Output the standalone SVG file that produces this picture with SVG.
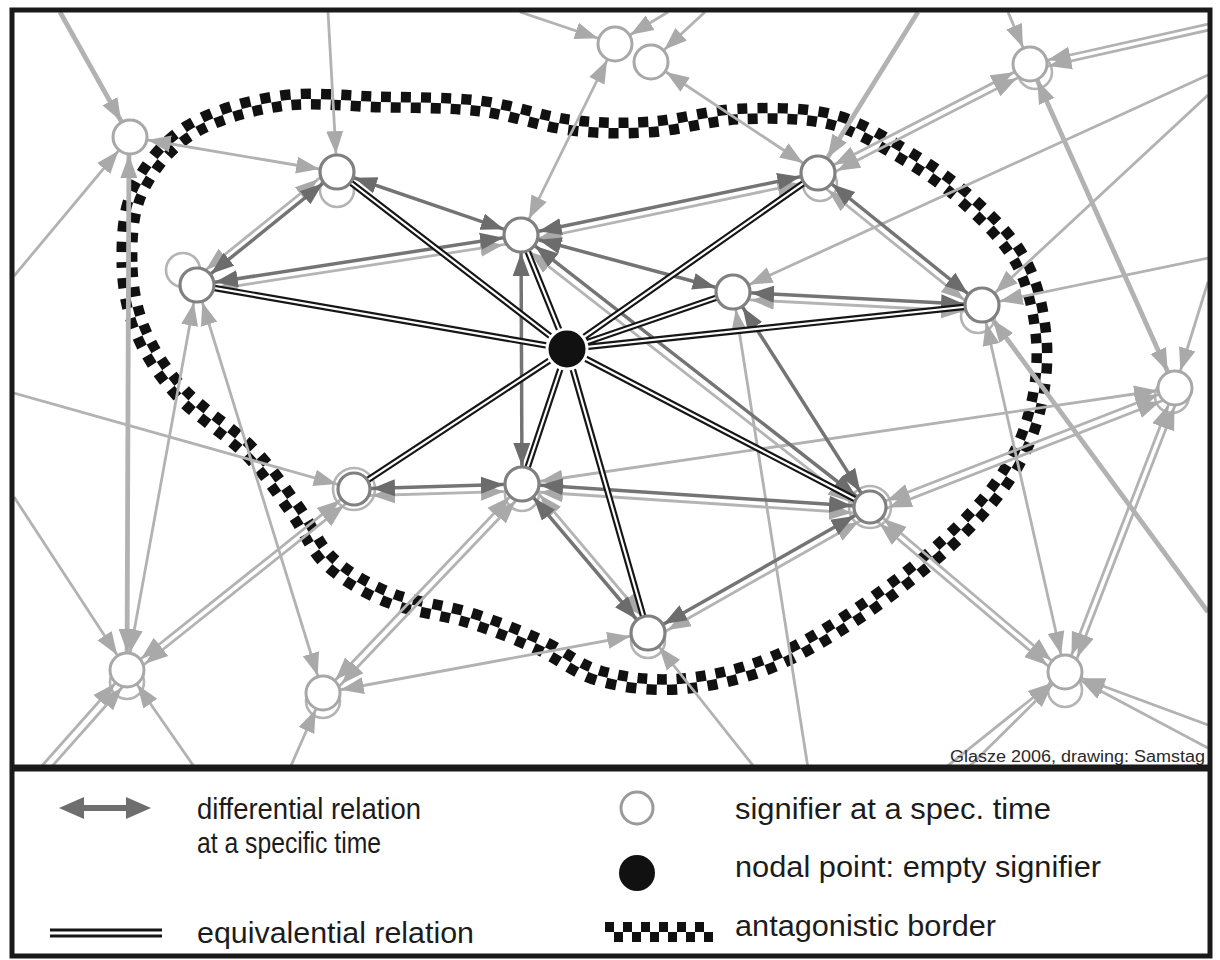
<svg xmlns="http://www.w3.org/2000/svg" width="1220" height="960" viewBox="0 0 1220 960">
<defs>
<style>
.lt{fill:none;stroke:#b2b2b2;stroke-width:2.8}
.lk{fill:none;stroke:#b2b2b2;stroke-width:4.8}
.dk{fill:none;stroke:#747474;stroke-width:3.5}
.dl{fill:none;stroke:#b4b4b4;stroke-width:2.8}
.eqo{fill:none;stroke:#161616;stroke-width:6.5}
.eqi{fill:none;stroke:#fff;stroke-width:2.2}
.la{marker-end:url(#al)}
.lb{marker-start:url(#al);marker-end:url(#al)}
.db{marker-start:url(#ad);marker-end:url(#ad)}
.n{fill:#fff;stroke:#808080;stroke-width:3.2}
.no{fill:#fff;stroke:#a8a8a8;stroke-width:3}
.g{fill:none;stroke:#b4b4b4;stroke-width:2.6}
.lab{font-family:"Liberation Sans",Arial,sans-serif;font-size:30px;fill:#1c1c1c}
.cr{font-family:"Liberation Sans",Arial,sans-serif;font-size:16px;fill:#2a2a2a}
</style>
<marker id="al" viewBox="0 -10 44 20" markerWidth="44" markerHeight="20" refX="41" refY="0" orient="auto-start-reverse" markerUnits="userSpaceOnUse"><path d="M0,-8.5 L23,0 L0,8.5 z" fill="#a9a9a9"/></marker>
<marker id="ad" viewBox="0 -10 44 20" markerWidth="44" markerHeight="20" refX="41" refY="0" orient="auto-start-reverse" markerUnits="userSpaceOnUse"><path d="M0,-8.5 L23,0 L0,8.5 z" fill="#6c6c6c"/></marker>
<marker id="lg" viewBox="0 -12 26 24" markerWidth="26" markerHeight="24" refX="18" refY="0" orient="auto-start-reverse" markerUnits="userSpaceOnUse"><path d="M0,-11 L25,0 L0,11 z" fill="#6e6e6e"/></marker>
<clipPath id="plot"><rect x="14" y="12" width="1194" height="753"/></clipPath>
<path id="border" d="M127,262 C126.7,238.7 127.5,212 138,190 C148.5,168 166.3,144.8 190,130 C213.7,115.2 248.3,105.7 280,101 C311.7,96.3 346.7,101.2 380,102 C413.3,102.8 448.3,102.2 480,106 C511.7,109.8 541.7,121.5 570,125 C598.3,128.5 621.7,128.8 650,127 C678.3,125.2 710,115.3 740,114 C770,112.7 803.3,112.7 830,119 C856.7,125.3 877.5,138.8 900,152 C922.5,165.2 945,180 965,198 C985,216 1007.3,237.2 1020,260 C1032.7,282.8 1038.5,310 1041,335 C1043.5,360 1041,386.2 1035,410 C1029,433.8 1020,455.5 1005,478 C990,500.5 969.2,522.7 945,545 C920.8,567.3 889.2,592.3 860,612 C830.8,631.7 800,651 770,663 C740,675 708.3,681.8 680,684 C651.7,686.2 623.3,682.5 600,676 C576.7,669.5 561.7,654.7 540,645 C518.3,635.3 495,625.8 470,618 C445,610.2 413.3,607.3 390,598 C366.7,588.7 345.8,576.7 330,562 C314.2,547.3 308.3,528.3 295,510 C281.7,491.7 269.2,471.7 250,452 C230.8,432.3 198.3,412.3 180,392 C161.7,371.7 148.8,351.7 140,330 C131.2,308.3 127.3,285.3 127,262 Z"/>
<clipPath id="inside"><use href="#border"/></clipPath>
<mask id="outside" maskUnits="userSpaceOnUse" x="0" y="0" width="1220" height="960"><rect x="0" y="0" width="1220" height="960" fill="#fff"/><use href="#border" fill="#000"/></mask>
<path id="spokes" d="M567,349 L337,172 M567,349 L521,235 M567,349 L197,285 M567,349 L818,173 M567,349 L733,292 M567,349 L982,305 M567,349 L354,489 M567,349 L522,484 M567,349 L648,633 M567,349 L870,507"/>
</defs>

<rect x="0" y="0" width="1220" height="960" fill="#fff"/>

<!-- antagonistic border: inner and outer rows of squares, shifted by one square -->
<g id="antagonistic-border">
<use href="#border" fill="none" stroke="#fff" stroke-width="21"/>
<g clip-path="url(#inside)"><use href="#border" fill="none" stroke="#111" stroke-width="21" stroke-dasharray="10 10"/></g>
<g mask="url(#outside)"><use href="#border" fill="none" stroke="#111" stroke-width="21" stroke-dasharray="10 10" stroke-dashoffset="10"/></g>
</g>

<!-- second-time copies of signifiers (ghost rings) -->
<g id="ghosts">
<circle class="g" cx="337" cy="190" r="17"/>
<circle class="g" cx="183" cy="270" r="17"/>
<circle class="g" cx="820" cy="184" r="17"/>
<circle class="g" cx="978" cy="316" r="17"/>
<circle class="g" cx="1172" cy="396" r="17"/>
<circle class="g" cx="1035" cy="72" r="17"/>
<circle class="g" cx="522" cy="494" r="17"/>
<circle class="g" cx="648" cy="641" r="17"/>
<circle class="g" cx="323" cy="701" r="17"/>
<circle class="g" cx="127" cy="682" r="17"/>
<circle class="g" cx="1065" cy="690" r="17"/>
<circle class="g" cx="354" cy="489" r="21"/>
<circle class="g" cx="870" cy="507" r="21"/>
</g>

<g id="connectors" clip-path="url(#plot)">
<!-- relations outside the discourse -->
<path class="lk la" d="M60,12 L130,137"/>
<path class="lt la" d="M14,276 L130,137"/>
<path class="lt lb" d="M130,137 L337,172"/>
<path class="lk lb" d="M129,137 L127,670"/>
<path class="lt la" d="M328,12 L337,172"/>
<path class="lt lb" d="M197,285 L127,670"/>
<path class="lt lb" d="M197,285 L323,693"/>
<path class="lt la" d="M14,393 L354,489"/>
<path class="lt la" d="M14,497 L127,670"/>
<path class="lt lb" d="M354,489 L127,670"/>
<path class="lt lb" d="M354,489 L127,670" transform="translate(4,5)"/>
<path class="lt la" d="M40,768 L127,670"/>
<path class="lt la" d="M40,768 L127,670" transform="translate(7,4)"/>
<path class="lt la" d="M195,768 L127,670"/>
<path class="lt la" d="M290,768 L323,693"/>
<path class="lt lb" d="M522,484 L323,693"/>
<path class="lt lb" d="M522,484 L323,693" transform="translate(6,4)"/>
<path class="lt lb" d="M648,633 L323,693"/>
<path class="lt la" d="M755,768 L648,633"/>
<path class="lt la" d="M808,768 L733,292"/>
<path class="lt lb" d="M615,44 L521,235"/>
<path class="lt la" d="M520,12 L615,44"/>
<path class="lt la" d="M668,12 L615,44"/>
<path class="lt la" d="M705,12 L651,62"/>
<path class="lt lb" d="M651,62 L818,173"/>
<path class="lk la" d="M918,12 L818,173"/>
<path class="lt lb" d="M818,173 L1030,64"/>
<path class="lt lb" d="M818,173 L1030,64" transform="translate(3,6)"/>
<path class="lt la" d="M1208,24 L1030,64"/>
<path class="lt la" d="M1208,24 L1030,64" transform="translate(1,6)"/>
<path class="lt la" d="M1008,12 L1030,64"/>
<path class="lk lb" d="M1030,64 L1175,388"/>
<path class="lt la" d="M1208,75 L733,292"/>
<path class="lt la" d="M1208,95 L982,305"/>
<path class="lt la" d="M1208,258 L982,305"/>
<path class="lt lb" d="M982,305 L1065,672"/>
<path class="lk la" d="M1208,612 L982,305"/>
<path class="lt la" d="M1208,282 L1175,388"/>
<path class="lt lb" d="M1175,388 L1065,672"/>
<path class="lt lb" d="M1175,388 L1065,672" transform="translate(6,2)"/>
<path class="lt lb" d="M870,507 L1175,388"/>
<path class="lt lb" d="M870,507 L1175,388" transform="translate(2,7)"/>
<path class="lt lb" d="M522,484 L1175,388"/>
<path class="lt lb" d="M870,507 L1065,672"/>
<path class="lt lb" d="M870,507 L1065,672" transform="translate(-4,5)"/>
<path class="lt la" d="M945,768 L1065,672"/>
<path class="lt la" d="M968,768 L1065,672"/>
<path class="lt la" d="M1208,725 L1065,672"/>
<path class="lt la" d="M1208,748 L1065,672"/>

<!-- differential relations at another time (light copies) -->
<path class="dl lb" d="M337,172 L197,285" transform="translate(-5,-4)"/>
<path class="dl lb" d="M197,285 L521,235" transform="translate(0,7)"/>
<path class="dl lb" d="M521,235 L818,173" transform="translate(0,7)"/>
<path class="dl lb" d="M521,235 L870,507" transform="translate(-5,6)"/>
<path class="dl lb" d="M818,173 L982,305" transform="translate(-4,6)"/>
<path class="dl lb" d="M733,292 L982,305" transform="translate(0,7)"/>
<path class="dl lb" d="M522,484 L870,507" transform="translate(0,7)"/>
<path class="dl lb" d="M522,484 L648,633" transform="translate(6,-3)"/>
<path class="dl lb" d="M648,633 L870,507" transform="translate(4,6)"/>
<path class="dl lb" d="M354,489 L522,484" transform="translate(0,7)"/>

<!-- differential relations at the specific time -->
<path class="dk db" d="M337,172 L521,235"/>
<path class="dk db" d="M337,172 L197,285"/>
<path class="dk db" d="M197,285 L521,235"/>
<path class="dk db" d="M521,235 L733,292"/>
<path class="dk db" d="M521,235 L818,173"/>
<path class="dk db" d="M521,235 L522,484"/>
<path class="dk db" d="M521,235 L870,507"/>
<path class="dk db" d="M818,173 L982,305"/>
<path class="dk db" d="M733,292 L982,305"/>
<path class="dk db" d="M733,292 L870,507"/>
<path class="dk db" d="M522,484 L870,507"/>
<path class="dk db" d="M354,489 L522,484"/>
<path class="dk db" d="M522,484 L648,633"/>
<path class="dk db" d="M648,633 L870,507"/>

<!-- equivalential relations around the nodal point -->
<use href="#spokes" class="eqo"/>
<use href="#spokes" class="eqi"/>
</g>

<!-- signifiers -->
<g id="node-a"><circle class="no" cx="130" cy="137" r="17"/></g>
<g id="node-b"><circle class="no" cx="615" cy="44" r="17"/></g>
<g id="node-c"><circle class="no" cx="651" cy="62" r="17"/></g>
<g id="node-d"><circle class="no" cx="1030" cy="64" r="17"/></g>
<g id="node-e"><circle class="no" cx="1175" cy="388" r="17"/></g>
<g id="node-f"><circle class="no" cx="127" cy="670" r="17"/></g>
<g id="node-g"><circle class="no" cx="323" cy="693" r="17"/></g>
<g id="node-h"><circle class="no" cx="1065" cy="672" r="17"/></g>
<g id="node-i"><circle class="n" cx="337" cy="172" r="17"/></g>
<g id="node-j"><circle class="n" cx="521" cy="235" r="17"/></g>
<g id="node-k"><circle class="n" cx="197" cy="285" r="17"/></g>
<g id="node-l"><circle class="n" cx="818" cy="173" r="17"/></g>
<g id="node-m"><circle class="n" cx="733" cy="292" r="17"/></g>
<g id="node-n"><circle class="n" cx="982" cy="305" r="17"/></g>
<g id="node-o"><circle class="n" cx="354" cy="489" r="16"/></g>
<g id="node-p"><circle class="n" cx="522" cy="484" r="17"/></g>
<g id="node-q"><circle class="n" cx="870" cy="507" r="16"/></g>
<g id="node-r"><circle class="n" cx="648" cy="633" r="17"/></g>
<g id="nodal-point"><circle cx="567" cy="349" r="20" fill="#111" stroke="#fff" stroke-width="3"/></g>

<text class="cr" x="950" y="762" textLength="255" lengthAdjust="spacingAndGlyphs">Glasze 2006, drawing: Samstag</text>

<!-- frame and legend divider -->
<rect x="12" y="10" width="1198" height="946" fill="none" stroke="#1a1a1a" stroke-width="5"/>
<line x1="12" y1="768" x2="1210" y2="768" stroke="#1a1a1a" stroke-width="7"/>

<g id="legend">
<line x1="66" y1="808" x2="144" y2="808" stroke="#6e6e6e" stroke-width="6" marker-start="url(#lg)" marker-end="url(#lg)"/>
<text class="lab" x="197" y="819" textLength="224" lengthAdjust="spacingAndGlyphs">differential relation</text>
<text class="lab" x="197" y="853" textLength="184" lengthAdjust="spacingAndGlyphs">at a specific time</text>
<line x1="50" y1="933" x2="162" y2="933" stroke="#161616" stroke-width="9"/>
<line x1="50" y1="933" x2="162" y2="933" stroke="#fff" stroke-width="3"/>
<text class="lab" x="197" y="943" textLength="277" lengthAdjust="spacingAndGlyphs">equivalential relation</text>
<circle cx="637" cy="808" r="16" fill="#fff" stroke="#9a9a9a" stroke-width="3"/>
<text class="lab" x="735" y="819" textLength="316" lengthAdjust="spacingAndGlyphs">signifier at a spec. time</text>
<circle cx="637" cy="873" r="18" fill="#111"/>
<text class="lab" x="735" y="877" textLength="366" lengthAdjust="spacingAndGlyphs">nodal point: empty signifier</text>
<g fill="#111">
<rect x="605" y="922" width="9" height="10"/><rect x="623" y="922" width="9" height="10"/><rect x="641" y="922" width="9" height="10"/><rect x="659" y="922" width="9" height="10"/><rect x="677" y="922" width="9" height="10"/><rect x="695" y="922" width="9" height="10"/>
<rect x="614" y="932" width="9" height="10"/><rect x="632" y="932" width="9" height="10"/><rect x="650" y="932" width="9" height="10"/><rect x="668" y="932" width="9" height="10"/><rect x="686" y="932" width="9" height="10"/><rect x="704" y="932" width="9" height="10"/>
</g>
<text class="lab" x="735" y="936" textLength="261" lengthAdjust="spacingAndGlyphs">antagonistic border</text>
</g>
</svg>
